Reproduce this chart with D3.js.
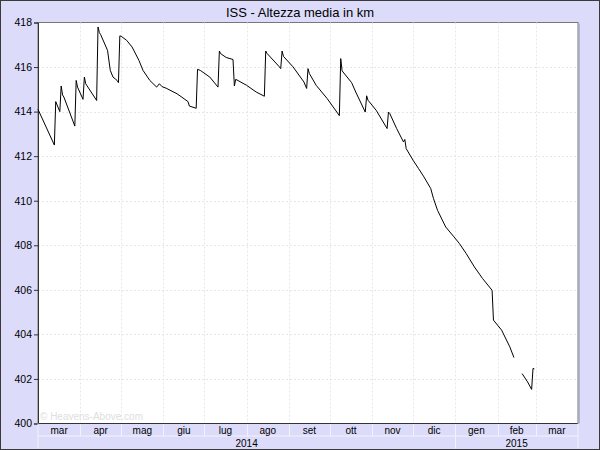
<!DOCTYPE html>
<html>
<head>
<meta charset="utf-8">
<script src="https://cdn.jsdelivr.net/npm/d3@7"></script>
<style>
  body { margin: 0; background: #fff; }
  svg { display: block; font-family: "Liberation Sans", Arial, sans-serif; }
</style>
</head>
<body>
<div id="chart"></div>
<script>
// ISS mean altitude (km)
var dates = [
  "2014-03-01","2014-03-13","2014-03-14","2014-03-17","2014-03-18","2014-03-19","2014-03-20","2014-03-28","2014-03-29","2014-03-30",
  "2014-04-03","2014-04-04","2014-04-05","2014-04-13","2014-04-14","2014-04-15","2014-04-16","2014-04-21","2014-04-23","2014-04-25","2014-04-27","2014-04-28","2014-04-29","2014-04-30",
  "2014-05-01","2014-05-05","2014-05-09","2014-05-14","2014-05-17","2014-05-22","2014-05-27","2014-05-29","2014-05-31",
  "2014-06-03","2014-06-11","2014-06-19","2014-06-20","2014-06-25","2014-06-26","2014-06-28",
  "2014-07-05","2014-07-11","2014-07-12","2014-07-13","2014-07-17","2014-07-22","2014-07-23","2014-07-24",
  "2014-08-01","2014-08-08","2014-08-14","2014-08-15","2014-08-16","2014-08-25","2014-08-26","2014-08-27","2014-08-28",
  "2014-09-04","2014-09-12","2014-09-14","2014-09-15","2014-09-16","2014-09-21","2014-09-29",
  "2014-10-08","2014-10-09","2014-10-10","2014-10-17","2014-10-20","2014-10-27","2014-10-28","2014-10-29",
  "2014-11-04","2014-11-12","2014-11-13","2014-11-14","2014-11-19","2014-11-24","2014-11-25","2014-11-26",
  "2014-12-01","2014-12-05","2014-12-09","2014-12-14","2014-12-16","2014-12-19","2014-12-25","2014-12-31",
  "2015-01-04","2015-01-09","2015-01-15","2015-01-21","2015-01-28","2015-01-29",
  "2015-02-04","2015-02-10","2015-02-13","2015-02-16","2015-02-19","2015-02-23","2015-02-26","2015-02-27","2015-02-28"
];
var altitude = [
  414.1,412.5,414.45,414.0,415.15,414.75,414.65,413.35,415.4,415.1,
  414.55,415.55,415.25,414.5,417.8,417.55,417.45,416.75,415.85,415.55,415.45,415.4,415.3,417.4,
  417.38,417.2,416.9,416.3,415.85,415.4,415.1,415.25,415.12,
  415.05,414.8,414.45,414.25,414.15,415.9,415.85,
  415.55,415.1,416.72,416.6,416.43,416.34,415.15,415.45,
  415.18,414.88,414.69,416.72,416.61,416.01,415.93,416.72,416.48,
  416.01,415.33,415.04,415.93,415.71,415.18,414.59,
  413.82,416.38,415.83,415.3,414.88,413.98,414.71,414.51,
  414.06,413.24,413.98,413.91,413.24,412.64,412.75,412.34,
  411.82,411.45,411.07,410.55,410.1,409.57,408.82,408.38,
  408.08,407.63,407.03,406.51,405.98,404.64,
  404.19,403.44,402.96,null,402.24,401.87,401.53,402.47,402.45
];
var monthLabels = ["mar","apr","mag","giu","lug","ago","set","ott","nov","dic","gen","feb","mar"];
var yearLabels = ["2014","2015"];
var yTicks = [400,402,404,406,408,410,412,414,416,418];
var title = "ISS - Altezza media in km";

var W = 600, H = 450;
var pLeft = 38, pRight = 578, pTop = 22.5, pBottom = 423.5;
var bg = "#dcdcfa";

var parse = d3.timeParse("%Y-%m-%d");
var data = dates.map(function(d, i) { return {date: parse(d), alt: altitude[i]}; });

var x = d3.scaleTime()
  .domain([new Date(2014, 2, 1), new Date(2015, 3, 1)])
  .range([pLeft, pRight]);
var y = d3.scaleLinear()
  .domain([400, 418])
  .range([pBottom, pTop]);

var svg = d3.select("#chart").append("svg")
  .attr("width", W)
  .attr("height", H);

// background + outer frame
svg.append("rect")
  .attr("x", 0.5).attr("y", 0.5)
  .attr("width", W - 1).attr("height", H - 1)
  .attr("fill", bg)
  .attr("stroke", "#3a3a3a");

svg.append("text")
  .attr("x", W / 2).attr("y", 17)
  .attr("text-anchor", "middle")
  .attr("font-size", 13)
  .attr("fill", "#000")
  .text(title);

// plot area with a small shadow on the right
svg.append("line")
  .attr("x1", pRight + 1.5).attr("x2", pRight + 1.5)
  .attr("y1", pTop + 1).attr("y2", pBottom)
  .attr("stroke", "#b4b4d8");
svg.append("rect")
  .attr("x", pLeft).attr("y", pTop)
  .attr("width", pRight - pLeft).attr("height", pBottom - pTop)
  .attr("fill", "#fff")
  .attr("stroke", "#777");

// grid
var months = d3.timeMonth.range(new Date(2014, 2, 1), new Date(2015, 3, 1));
svg.append("g").selectAll("line")
  .data(months.slice(1))
  .enter().append("line")
    .attr("x1", function(d) { return Math.round(x(d)) + 0.5; })
    .attr("x2", function(d) { return Math.round(x(d)) + 0.5; })
    .attr("y1", pTop).attr("y2", pBottom)
    .attr("stroke", "#e6e6e6")
    .attr("stroke-dasharray", "2,2");
svg.append("g").selectAll("line")
  .data(yTicks.slice(1, -1))
  .enter().append("line")
    .attr("x1", pLeft).attr("x2", pRight)
    .attr("y1", function(d) { return Math.round(y(d)) + 0.5; })
    .attr("y2", function(d) { return Math.round(y(d)) + 0.5; })
    .attr("stroke", "#e6e6e6")
    .attr("stroke-dasharray", "2,2");

svg.append("text")
  .attr("x", pLeft + 2).attr("y", pBottom - 4)
  .attr("font-size", 10)
  .attr("fill", "#dedede")
  .text("\u00a9 Heavens-Above.com");

// y axis
var yAxis = svg.append("g")
  .attr("transform", "translate(" + pLeft + ",0)")
  .call(d3.axisLeft(y).tickValues(yTicks).tickSize(4).tickPadding(2).tickFormat(d3.format("d")));
yAxis.select(".domain").attr("stroke", "#333");
yAxis.selectAll(".tick line").attr("stroke", "#333");
yAxis.selectAll("text")
  .attr("font-size", 10.5)
  .attr("font-family", "Liberation Sans, Arial, sans-serif")
  .attr("fill", "#000");

// bottom band: months and years
var rowH = 12.5;
svg.append("line")
  .attr("x1", pLeft).attr("x2", pRight)
  .attr("y1", pBottom).attr("y2", pBottom)
  .attr("stroke", "#333");
svg.append("line")
  .attr("x1", pLeft).attr("x2", pRight)
  .attr("y1", pBottom + rowH).attr("y2", pBottom + rowH)
  .attr("stroke", "#f2f2ff");
svg.append("line")
  .attr("x1", pLeft).attr("x2", pLeft)
  .attr("y1", pBottom).attr("y2", pBottom + 2 * rowH)
  .attr("stroke", "#f2f2ff");
svg.append("line")
  .attr("x1", pRight).attr("x2", pRight)
  .attr("y1", pBottom).attr("y2", pBottom + 2 * rowH)
  .attr("stroke", "#f2f2ff");

svg.append("g").selectAll("line")
  .data(months.slice(1))
  .enter().append("line")
    .attr("x1", function(d) { return Math.round(x(d)) + 0.5; })
    .attr("x2", function(d) { return Math.round(x(d)) + 0.5; })
    .attr("y1", pBottom + 1)
    .attr("y2", function(d) { return d.getMonth() === 0 ? pBottom + 2 * rowH : pBottom + rowH; })
    .attr("stroke", "#f2f2ff");

svg.append("g").selectAll("text")
  .data(months)
  .enter().append("text")
    .attr("x", function(d) { return (x(d) + x(d3.timeMonth.offset(d, 1))) / 2; })
    .attr("y", pBottom + 10)
    .attr("text-anchor", "middle")
    .attr("font-size", 10)
    .attr("fill", "#000")
    .text(function(d, i) { return monthLabels[i]; });

var yearSpans = [[new Date(2014, 2, 1), new Date(2015, 0, 1)], [new Date(2015, 0, 1), new Date(2015, 3, 1)]];
svg.append("g").selectAll("text")
  .data(yearSpans)
  .enter().append("text")
    .attr("x", function(d) { return (x(d[0]) + x(d[1])) / 2; })
    .attr("y", pBottom + rowH + 10.5)
    .attr("text-anchor", "middle")
    .attr("font-size", 10)
    .attr("fill", "#000")
    .text(function(d, i) { return yearLabels[i]; });

// altitude line
var line = d3.line()
  .defined(function(d) { return d.alt !== null; })
  .x(function(d) { return x(d.date); })
  .y(function(d) { return y(d.alt); });

svg.append("path")
  .datum(data)
  .attr("d", line)
  .attr("fill", "none")
  .attr("stroke", "#000")
  .attr("stroke-width", 1);
</script>
</body>
</html>
